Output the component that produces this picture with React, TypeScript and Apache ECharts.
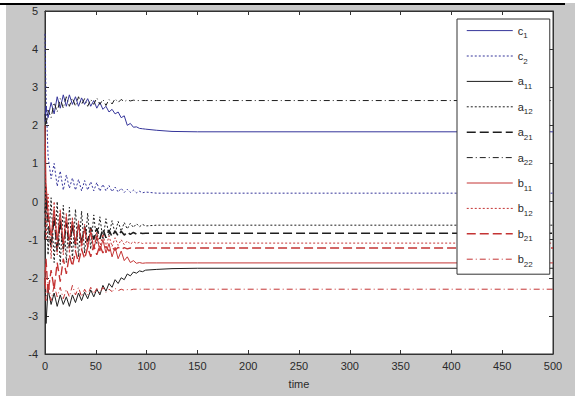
import React, { useEffect, useRef } from "react";
import * as echarts from "echarts";

const T = [0, 1, 3, 6, 9, 12, 15, 18, 21, 24, 27, 30, 33, 36, 39, 42, 45, 48, 51, 54, 57, 60, 63, 66, 69, 72, 75, 78, 81, 84, 87, 90, 93, 96, 99, 110, 125, 150, 500];

const c1 = [2.1, 2.5, 2.2, 2.6, 2.3, 2.75, 2.45, 2.8, 2.5, 2.8, 2.55, 2.75, 2.5, 2.72, 2.55, 2.7, 2.5, 2.65, 2.45, 2.6, 2.42, 2.5, 2.35, 2.42, 2.3, 2.35, 2.2, 2.25, 2.0, 2.05, 1.95, 1.96, 1.92, 1.91, 1.9, 1.87, 1.84, 1.83, 1.83];
const c2 = [4.4, 2.8, 1.2, 0.6, 1.0, 0.4, 0.8, 0.3, 0.7, 0.35, 0.62, 0.3, 0.58, 0.28, 0.55, 0.3, 0.52, 0.28, 0.5, 0.27, 0.45, 0.28, 0.42, 0.26, 0.38, 0.25, 0.35, 0.24, 0.32, 0.24, 0.3, 0.23, 0.27, 0.23, 0.25, 0.22, 0.22, 0.22, 0.22];
const a11 = [-2.0, -3.2, -2.3, -2.7, -2.4, -2.75, -2.45, -2.7, -2.5, -2.75, -2.45, -2.65, -2.4, -2.6, -2.38, -2.55, -2.32, -2.5, -2.3, -2.45, -2.2, -2.35, -2.15, -2.25, -2.05, -2.15, -2.0, -2.05, -1.9, -1.95, -1.85, -1.88, -1.82, -1.84, -1.8, -1.78, -1.76, -1.75, -1.75];
const a12 = [-0.3, 0.4, -1.4, 0.1, -1.6, 0.0, -1.65, -0.1, -1.6, -0.15, -1.5, -0.2, -1.45, -0.25, -1.35, -0.3, -1.25, -0.35, -1.1, -0.4, -1.0, -0.45, -0.9, -0.5, -0.85, -0.52, -0.78, -0.55, -0.72, -0.57, -0.68, -0.58, -0.66, -0.6, -0.64, -0.62, -0.62, -0.62, -0.62];
const a21 = [-1.0, 0.2, -0.5, -1.2, -0.4, -1.3, -0.5, -1.25, -0.55, -1.2, -0.6, -1.15, -0.6, -1.1, -0.65, -1.05, -0.68, -1.0, -0.7, -0.98, -0.72, -0.95, -0.75, -0.92, -0.77, -0.9, -0.78, -0.88, -0.8, -0.86, -0.81, -0.85, -0.82, -0.84, -0.83, -0.83, -0.83, -0.83, -0.83];
const a22 = [2.3, 2.0, 2.4, 2.2, 2.6, 2.35, 2.7, 2.45, 2.75, 2.5, 2.72, 2.5, 2.75, 2.55, 2.7, 2.5, 2.68, 2.55, 2.72, 2.55, 2.68, 2.52, 2.68, 2.56, 2.7, 2.6, 2.68, 2.62, 2.67, 2.64, 2.66, 2.65, 2.65, 2.65, 2.65, 2.65, 2.65, 2.65, 2.65];
const b11 = [2.0, 0.5, -0.3, -0.9, -0.2, -1.0, -0.3, -1.1, -0.4, -1.0, -0.5, -1.1, -0.6, -1.15, -0.7, -1.2, -0.8, -1.25, -0.9, -1.3, -1.0, -1.35, -1.1, -1.45, -1.2, -1.5, -1.3, -1.55, -1.45, -1.6, -1.55, -1.62, -1.6, -1.62, -1.61, -1.61, -1.61, -1.61, -1.61];
const b12 = [1.5, -1.0, 0.2, -1.5, 0.0, -1.4, -0.2, -1.4, -0.3, -1.35, -0.4, -1.3, -0.5, -1.3, -0.6, -1.25, -0.7, -1.25, -0.8, -1.2, -0.85, -1.2, -0.9, -1.18, -0.95, -1.15, -1.0, -1.13, -1.03, -1.12, -1.05, -1.1, -1.07, -1.1, -1.09, -1.09, -1.09, -1.09, -1.09];
const b21 = [-2.2, -1.5, -2.4, -1.8, -2.3, -1.6, -2.1, -1.5, -1.9, -1.4, -1.7, -1.3, -1.6, -1.25, -1.5, -1.2, -1.45, -1.15, -1.4, -1.15, -1.35, -1.18, -1.3, -1.2, -1.28, -1.2, -1.26, -1.21, -1.24, -1.22, -1.23, -1.22, -1.22, -1.22, -1.22, -1.22, -1.22, -1.22, -1.22];
const b22 = [-1.8, -2.6, -2.1, -2.6, -2.2, -2.5, -2.25, -2.55, -2.3, -2.5, -2.2, -2.45, -2.25, -2.5, -2.3, -2.45, -2.25, -2.42, -2.28, -2.4, -2.25, -2.38, -2.3, -2.36, -2.28, -2.34, -2.3, -2.33, -2.31, -2.32, -2.3, -2.3, -2.3, -2.3, -2.3, -2.3, -2.3, -2.3, -2.3];

const seriesNames = ["c1", "c2", "a11", "a12", "a21", "a22", "b11", "b12", "b21", "b22"];
const seriesValues = [c1, c2, a11, a12, a21, a22, b11, b12, b21, b22];

const BLUE = "#35359a";
const BLACK = "#1e1e1e";
const RED = "#c43434";
const colors = [BLUE, BLUE, BLACK, BLACK, BLACK, BLACK, RED, RED, RED, RED];
const dashes: any[] = ["solid", [2, 2], "solid", [2, 2], [9, 4], [6, 3, 1, 3], "solid", [2, 2], [9, 4], [6, 3, 1, 3]];
const widths = [1, 1, 1, 1, 1.6, 1, 1, 1, 1.4, 1];

export default function App() {
  const ref = useRef<HTMLDivElement>(null);
  useEffect(() => {
    if (!ref.current) return;
    const chart = echarts.init(ref.current, null, { renderer: "svg" });
    const font = "'Liberation Sans', Arial, sans-serif";
    const axisLabel = { color: "#2a2a2a", fontSize: 11, fontFamily: font };
    const axisLine = { show: true, onZero: false, lineStyle: { color: "#333" } };
    chart.setOption({
      animation: false,
      backgroundColor: "transparent",
      grid: { left: 45, right: 22, top: 11, bottom: 44, show: true, backgroundColor: "#ffffff", borderColor: "#333", borderWidth: 1 },
      graphic: [
        { type: "rect", shape: { x: 0, y: 0, width: 575, height: 3 }, style: { fill: "#ffffff" }, silent: true },
        { type: "rect", shape: { x: 0, y: 0, width: 6, height: 398 }, style: { fill: "#ffffff" }, silent: true },
        { type: "rect", shape: { x: 0, y: 396, width: 575, height: 2 }, style: { fill: "#ffffff" }, silent: true },
        { type: "line", shape: { x1: 0, y1: 4, x2: 565, y2: 4 }, style: { stroke: "#000", lineWidth: 2 }, silent: true },
      ],
      legend: {
        orient: "vertical",
        left: 457,
        top: 19,
        padding: [6, 17, 6, 9],
        itemWidth: 46,
        itemHeight: 14,
        itemGap: 10.8,
        backgroundColor: "#ffffff",
        borderColor: "#333",
        borderWidth: 1,
        data: seriesNames.map((name, i) => ({ name, lineStyle: { width: widths[i] > 1 ? 1.5 : 1 } })),
        itemStyle: { opacity: 0 },
        formatter: (name: string) => name[0] + "{s|" + name.slice(1) + "}",
        textStyle: {
          color: "#2a2a2a",
          fontSize: 11,
          fontFamily: font,
          rich: { s: { fontSize: 8, fontFamily: font, color: "#2a2a2a", padding: [10, 0, 0, 0] } },
        },
      },
      xAxis: [
        {
          type: "value", min: 0, max: 500, interval: 50,
          name: "time", nameLocation: "middle", nameGap: 24,
          nameTextStyle: { color: "#2a2a2a", fontSize: 11, fontFamily: font },
          axisLine,
          axisTick: { inside: true, length: 4, lineStyle: { color: "#333" } },
          axisLabel: { ...axisLabel, margin: 6 },
          splitLine: { show: false },
        },
        {
          type: "value", min: 0, max: 500, interval: 50, position: "top",
          axisLine,
          axisTick: { inside: true, length: 4, lineStyle: { color: "#333" } },
          axisLabel: { show: false },
          splitLine: { show: false },
        },
      ],
      yAxis: [
        {
          type: "value", min: -4, max: 5, interval: 1,
          axisLine,
          axisTick: { inside: true, length: 4, lineStyle: { color: "#333" } },
          axisLabel: { ...axisLabel, margin: 7 },
          splitLine: { show: false },
        },
        {
          type: "value", min: -4, max: 5, interval: 1, position: "right",
          axisLine,
          axisTick: { inside: true, length: 4, lineStyle: { color: "#333" } },
          axisLabel: { show: false },
          splitLine: { show: false },
        },
      ],
      series: seriesNames.map((name, i) => ({
        name,
        type: "line",
        xAxisIndex: 0,
        yAxisIndex: 0,
        showSymbol: false,
        symbol: "none",
        z: 2,
        color: colors[i],
        lineStyle: { color: colors[i], width: widths[i], type: dashes[i] },
        data: T.map((t, k) => [t, seriesValues[i][k]]),
      })),
    });
    return () => chart.dispose();
  }, []);
  return (
    <div
      ref={ref}
      style={{ position: "absolute", left: 0, top: 0, width: 575, height: 398, background: "#c8c8c8" }}
    />
  );
}
